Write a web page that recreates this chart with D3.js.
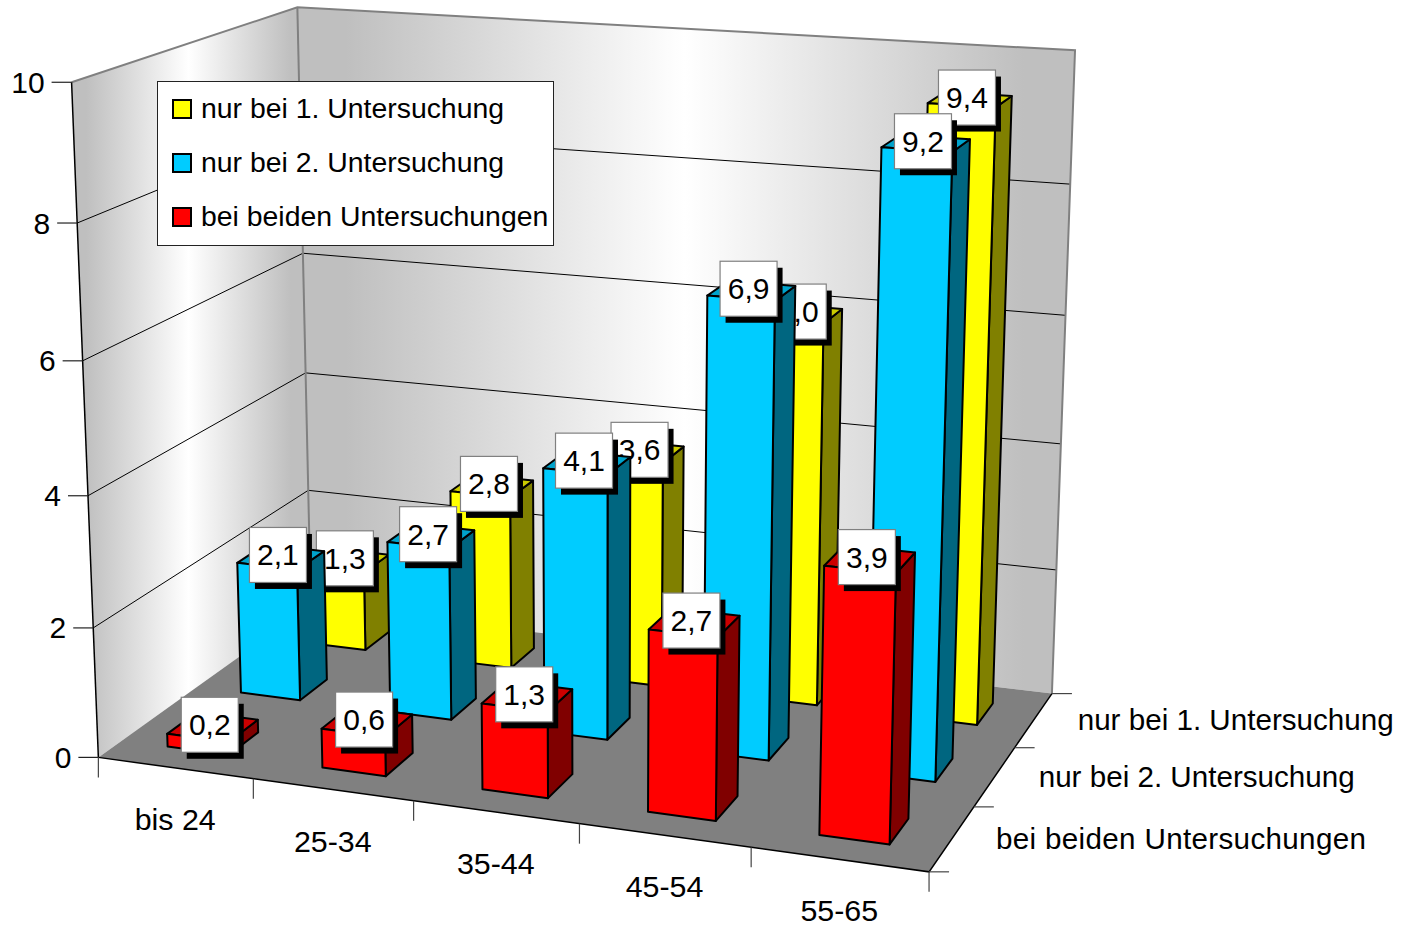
<!DOCTYPE html>
<html>
<head>
<meta charset="utf-8">
<script src="https://d3js.org/d3.v7.min.js"></script>
<style>
  html, body { margin: 0; padding: 0; background: #fff; }
  text { font-family: "Liberation Sans", Arial, sans-serif; fill: #000; }
</style>
</head>
<body>
<div id="chart"></div>
<script>
// chart values
var ageGroups = ["bis 24", "25-34", "35-44", "45-54", "55-65"];
// front row first, the depth axis runs from the front to the back wall
var rowNames = ["bei beiden Untersuchungen", "nur bei 2. Untersuchung", "nur bei 1. Untersuchung"];
var beideWerte = [0.2, 0.6, 1.3, 2.7, 3.9];
var zweiteWerte = [2.1, 2.7, 4.1, 6.9, 9.2];
var ersteWerte = [1.3, 2.8, 3.6, 6.0, 9.4];
var valueTicks = [0, 2, 4, 6, 8, 10];
var legendNames = ["nur bei 1. Untersuchung", "nur bei 2. Untersuchung", "bei beiden Untersuchungen"];

var colors = {
  "bei beiden Untersuchungen": {front: "#ff0000", top: "#cc0000", side: "#800000"},
  "nur bei 2. Untersuchung": {front: "#00ccff", top: "#00a3cc", side: "#006680"},
  "nur bei 1. Untersuchung": {front: "#ffff00", top: "#cccc00", side: "#808000"}
};

var svg = d3.select("#chart").append("svg")
  .attr("width", 1408)
  .attr("height", 925);

// box corners in chart space (u along ages, v into depth, w up) and where they land on screen
var frame = [
  [0, 0, 0, 99, 758], [0, 0, .2, 93, 628], [0, 0, .4, 88, 495], [0, 0, .6, 82, 360], [0, 0, .8, 77, 223], [0, 0, 1, 72, 83],
  [0, 1, 0, 311, 607], [0, 1, .2, 308, 490], [0, 1, .4, 306, 372], [0, 1, .6, 303, 253], [0, 1, .8, 300, 130], [0, 1, 1, 297, 9],
  [1, 1, 0, 1052, 693], [1, 1, .2, 1056, 570], [1, 1, .4, 1061, 443], [1, 1, .6, 1065, 317], [1, 1, .8, 1070, 185], [1, 1, 1, 1076, 49],
  [1, 0, 0, 929, 872]
];

// least squares fit of the perspective matrix, px = (a u + b v + c w + d) / (g u + h v + i w + 1)
function fitCamera(pts) {
  var n = 11;
  var A = d3.range(n).map(function() { return d3.range(n + 1).map(function() { return 0; }); });
  function addRow(row, rhs) {
    for (var i = 0; i < n; i++) {
      for (var j = 0; j < n; j++) A[i][j] += row[i] * row[j];
      A[i][n] += row[i] * rhs;
    }
  }
  pts.forEach(function(p) {
    var u = p[0], v = p[1], w = p[2], x = p[3] / 1000, y = p[4] / 1000;
    addRow([u, v, w, 1, 0, 0, 0, 0, -x * u, -x * v, -x * w], x);
    addRow([0, 0, 0, 0, u, v, w, 1, -y * u, -y * v, -y * w], y);
  });
  for (var c = 0; c < n; c++) {
    var best = c;
    for (var r = c + 1; r < n; r++) if (Math.abs(A[r][c]) > Math.abs(A[best][c])) best = r;
    var tmp = A[c]; A[c] = A[best]; A[best] = tmp;
    for (var r2 = 0; r2 < n; r2++) {
      if (r2 === c) continue;
      var f = A[r2][c] / A[c][c];
      for (var k = c; k <= n; k++) A[r2][k] -= f * A[c][k];
    }
  }
  return A.map(function(row, i) { return row[n] / row[i]; });
}

var m = fitCamera(frame);
function project(u, v, w) {
  var d = m[8] * u + m[9] * v + m[10] * w + 1;
  return [
    1000 * (m[0] * u + m[1] * v + m[2] * w + m[3]) / d,
    1000 * (m[4] * u + m[5] * v + m[6] * w + m[7]) / d
  ];
}

// scales into chart space
var xBand = d3.scaleBand().domain(ageGroups).range([0, 1]).paddingInner(0.6).paddingOuter(0.3);
var xCell = d3.scaleBand().domain(ageGroups).range([0, 1]);
var zBand = d3.scaleBand().domain(rowNames).range([0, 1]).paddingInner(0.6).paddingOuter(0.3);
var zCell = d3.scaleBand().domain(rowNames).range([0, 1]);
var yScale = d3.scaleLinear().domain([0, 10]).range([0, 1]);

var outline = d3.line().curve(d3.curveLinearClosed);
var fmt = d3.formatLocale({decimal: ",", thousands: ".", grouping: [3], currency: ["", " €"]}).format(".1f");

// wall shading
var defs = svg.append("defs");
function wallGradient(id, x1, x2) {
  var g = defs.append("linearGradient")
    .attr("id", id)
    .attr("gradientUnits", "userSpaceOnUse")
    .attr("x1", x1).attr("x2", x2).attr("y1", 0).attr("y2", 0);
  g.append("stop").attr("offset", 0.06).attr("stop-color", "#bfbfbf");
  g.append("stop").attr("offset", 0.5).attr("stop-color", "#ffffff");
  g.append("stop").attr("offset", 0.94).attr("stop-color", "#bfbfbf");
}
wallGradient("leftWall", 72, 305);
wallGradient("backWall", 300, 1070);

svg.append("path")
  .attr("d", outline([project(0, 0, 0), project(0, 0, 1), project(0, 1, 1), project(0, 1, 0)]))
  .attr("fill", "url(#leftWall)");
svg.append("path")
  .attr("d", outline([project(0, 1, 0), project(0, 1, 1), project(1, 1, 1), project(1, 1, 0)]))
  .attr("fill", "url(#backWall)");
svg.append("path")
  .attr("d", outline([project(0, 0, 0), project(0, 1, 0), project(1, 1, 0), project(1, 0, 0)]))
  .attr("fill", "#808080");

// grid lines around the walls
var grid = valueTicks.filter(function(t) { return t > 0 && t < 10; });
grid.forEach(function(t) {
  var w = yScale(t);
  svg.append("path")
    .attr("d", d3.line()([project(0, 0, w), project(0, 1, w), project(1, 1, w)]))
    .attr("fill", "none")
    .attr("stroke", "#000")
    .attr("stroke-width", 1);
});

// wall edges
svg.append("path")
  .attr("d", d3.line()([project(0, 0, 1), project(0, 1, 1), project(1, 1, 1), project(1, 1, 0)]))
  .attr("fill", "none").attr("stroke", "#808080").attr("stroke-width", 2);
svg.append("path")
  .attr("d", d3.line()([project(0, 1, 0), project(0, 1, 1)]))
  .attr("fill", "none").attr("stroke", "#808080").attr("stroke-width", 2);
svg.append("path")
  .attr("d", d3.line()([project(0, 0, 0), project(0, 0, 1)]))
  .attr("fill", "none").attr("stroke", "#000").attr("stroke-width", 1.5);
svg.append("path")
  .attr("d", d3.line()([project(0, 0, 0), project(1, 0, 0), project(1, 1, 0)]))
  .attr("fill", "none").attr("stroke", "#000").attr("stroke-width", 1.5);

// value axis
var tickLen = 20;
valueTicks.forEach(function(t) {
  var p = project(0, 0, yScale(t));
  svg.append("line")
    .attr("x1", p[0] - tickLen).attr("x2", p[0])
    .attr("y1", p[1]).attr("y2", p[1])
    .attr("stroke", "#222").attr("stroke-width", 1.2);
  svg.append("text")
    .attr("x", p[0] - tickLen - 7)
    .attr("y", p[1] + 10.5)
    .attr("text-anchor", "end")
    .style("font-size", "30px")
    .text(t);
});

// age axis
d3.range(ageGroups.length + 1).forEach(function(i) {
  var p = project(i / ageGroups.length, 0, 0);
  svg.append("line")
    .attr("x1", p[0]).attr("x2", p[0])
    .attr("y1", p[1]).attr("y2", p[1] + tickLen)
    .attr("stroke", "#444").attr("stroke-width", 1.2);
});
ageGroups.forEach(function(name) {
  var p = project(xCell(name) + xCell.bandwidth() / 2, 0, 0);
  svg.append("text")
    .attr("x", p[0])
    .attr("y", p[1] + 62)
    .attr("text-anchor", "middle")
    .style("font-size", "30.4px")
    .text(name);
});

// depth axis
d3.range(rowNames.length + 1).forEach(function(i) {
  var p = project(1, i / rowNames.length, 0);
  svg.append("line")
    .attr("x1", p[0]).attr("x2", p[0] + tickLen)
    .attr("y1", p[1]).attr("y2", p[1])
    .attr("stroke", "#444").attr("stroke-width", 1.2);
});
var rowLabelWidth = d3.scaleOrdinal().domain(rowNames).range([370, 316, 316]);
rowNames.forEach(function(name) {
  var p = project(1, zCell(name) + zCell.bandwidth() / 2, 0);
  svg.append("text")
    .attr("x", p[0] + 44)
    .attr("y", p[1] + 10)
    .attr("textLength", rowLabelWidth(name))
    .style("font-size", "29.6px")
    .text(name);
});

// legend
var legend = svg.append("g");
legend.append("rect")
  .attr("x", 157.5).attr("y", 81.5)
  .attr("width", 396).attr("height", 164)
  .attr("fill", "#fff").attr("stroke", "#222").attr("stroke-width", 1);
var legendY = d3.scalePoint().domain(legendNames).range([118, 226]);
legendNames.forEach(function(name) {
  legend.append("rect")
    .attr("x", 173).attr("y", legendY(name) - 18)
    .attr("width", 18).attr("height", 18)
    .attr("fill", colors[name].front)
    .attr("stroke", "#000").attr("stroke-width", 2);
  legend.append("text")
    .attr("x", 201).attr("y", legendY(name) - 0.5)
    .style("font-size", "28.4px")
    .text(name);
});

// bars and their value labels, one row at a time from the back wall forward
function drawRow(name, values) {
  var c = colors[name];
  var v0 = zBand(name), v1 = v0 + zBand.bandwidth();
  var g = svg.append("g");

  var bars = g.selectAll("g.bar").data(values).enter().append("g").attr("class", "bar");
  function u0(d, i) { return xBand(ageGroups[i]); }
  function u1(d, i) { return xBand(ageGroups[i]) + xBand.bandwidth(); }

  bars.append("path")
    .attr("fill", c.side)
    .attr("d", function(d, i) {
      var w = yScale(d), u = u1(d, i);
      return outline([project(u, v0, 0), project(u, v1, 0), project(u, v1, w), project(u, v0, w)]);
    });
  bars.append("path")
    .attr("fill", c.top)
    .attr("d", function(d, i) {
      var w = yScale(d);
      return outline([project(u0(d, i), v0, w), project(u1(d, i), v0, w), project(u1(d, i), v1, w), project(u0(d, i), v1, w)]);
    });
  bars.append("path")
    .attr("fill", c.front)
    .attr("d", function(d, i) {
      var w = yScale(d);
      return outline([project(u0(d, i), v0, 0), project(u1(d, i), v0, 0), project(u1(d, i), v0, w), project(u0(d, i), v0, w)]);
    });
  bars.selectAll("path")
    .attr("stroke", "#000")
    .attr("stroke-width", 2)
    .attr("stroke-linejoin", "round");

  // label box sits over the centre of the bar's top face
  var labels = g.selectAll("g.label").data(values).enter().append("g")
    .attr("class", "label")
    .attr("transform", function(d, i) {
      var p = project((u0(d, i) + u1(d, i)) / 2, (v0 + v1) / 2, yScale(d));
      return "translate(" + (p[0] - 3) + "," + (p[1] - 2) + ")";
    });
  labels.append("rect")
    .attr("x", -23).attr("y", -21)
    .attr("width", 57).attr("height", 55)
    .attr("fill", "#000");
  labels.append("rect")
    .attr("x", -28.5).attr("y", -27.5)
    .attr("width", 57).attr("height", 55)
    .attr("fill", "#fff")
    .attr("stroke", "#808080")
    .attr("stroke-width", 1.2);
  labels.append("text")
    .attr("text-anchor", "middle")
    .attr("y", 10.5)
    .style("font-size", "30px")
    .text(function(d) { return fmt(d); });
}

drawRow("nur bei 1. Untersuchung", ersteWerte);
drawRow("nur bei 2. Untersuchung", zweiteWerte);
drawRow("bei beiden Untersuchungen", beideWerte);
</script>
</body>
</html>
